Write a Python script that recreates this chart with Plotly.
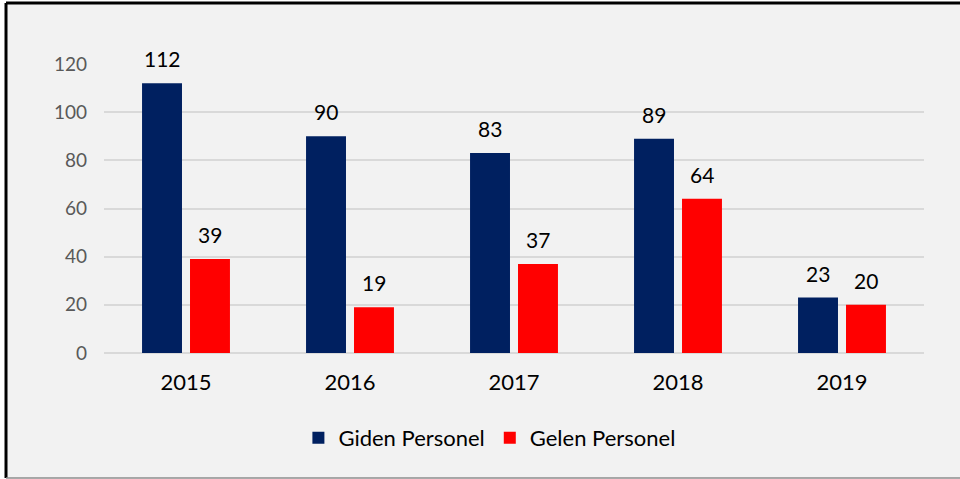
import plotly.graph_objects as go

years = ['2015', '2016', '2017', '2018', '2019']
giden = [112, 90, 83, 89, 23]
gelen = [39, 19, 37, 64, 20]

FONT = 'Lato'

fig = go.Figure()
fig.add_trace(go.Bar(
    x=years, y=giden, name='Giden Personel',
    marker=dict(color='#002060', line=dict(width=0)),
))
fig.add_trace(go.Bar(
    x=years, y=gelen, name='Gelen Personel',
    marker=dict(color='#FF0000', line=dict(width=0)),
))

# data labels, lifted a little above each bar (x is the category index)
for vals, shift in [(giden, -24), (gelen, 24)]:
    for i, v in enumerate(vals):
        fig.add_annotation(x=i, y=v, text=str(v), showarrow=False,
                           xshift=shift, yshift=10, yanchor='bottom',
                           font=dict(size=21, color='black', family=FONT))

# outer frame: grey panel, black top/left edges, thin grey bottom edge
x_left, x_right, y_top, y_bot = -0.1195, 1.1, 1.211, -0.4325
fig.add_shape(type='rect', xref='paper', yref='paper',
              x0=x_left, x1=x_right, y0=y_bot, y1=y_top,
              line=dict(width=0), fillcolor='#F2F2F2', layer='below')
fig.add_shape(type='line', xref='paper', yref='paper',
              x0=x_left, x1=x_right, y0=y_top, y1=y_top,
              line=dict(color='black', width=3), layer='below')
fig.add_shape(type='line', xref='paper', yref='paper',
              x0=x_left, x1=x_left, y0=y_bot, y1=y_top,
              line=dict(color='black', width=3), layer='below')
fig.add_shape(type='line', xref='paper', yref='paper',
              x0=x_left, x1=x_right, y0=y_bot, y1=y_bot,
              line=dict(color='#8C8C8C', width=1.5), layer='below')

fig.update_layout(
    width=960, height=479,
    barmode='group', bargap=0.415, bargroupgap=0.167,
    paper_bgcolor='white', plot_bgcolor='rgba(0,0,0,0)',
    margin=dict(l=104, r=36, t=64, b=126),
    font=dict(family=FONT, size=18, color='#595959'),
    xaxis=dict(type='category', showgrid=False, showline=False, ticks='', ticklabelstandoff=14,
               tickfont=dict(size=22, color='black')),
    yaxis=dict(range=[0, 120], dtick=20, showgrid=True, gridcolor='#D9D9D9',
               gridwidth=1.5, zeroline=True, zerolinecolor='#D9D9D9', zerolinewidth=1.5,
               ticks='', ticklabelstandoff=16, tickfont=dict(size=19, color='#595959')),
    legend=dict(orientation='h', x=0.47, xanchor='center', y=-0.294, yanchor='middle',
                font=dict(size=22, color='black'), bgcolor='rgba(0,0,0,0)',
                itemwidth=30),
    showlegend=True,
)

fig.write_html('out.html', config={'displayModeBar': False},
               post_script="document.body.style.margin='0';")
